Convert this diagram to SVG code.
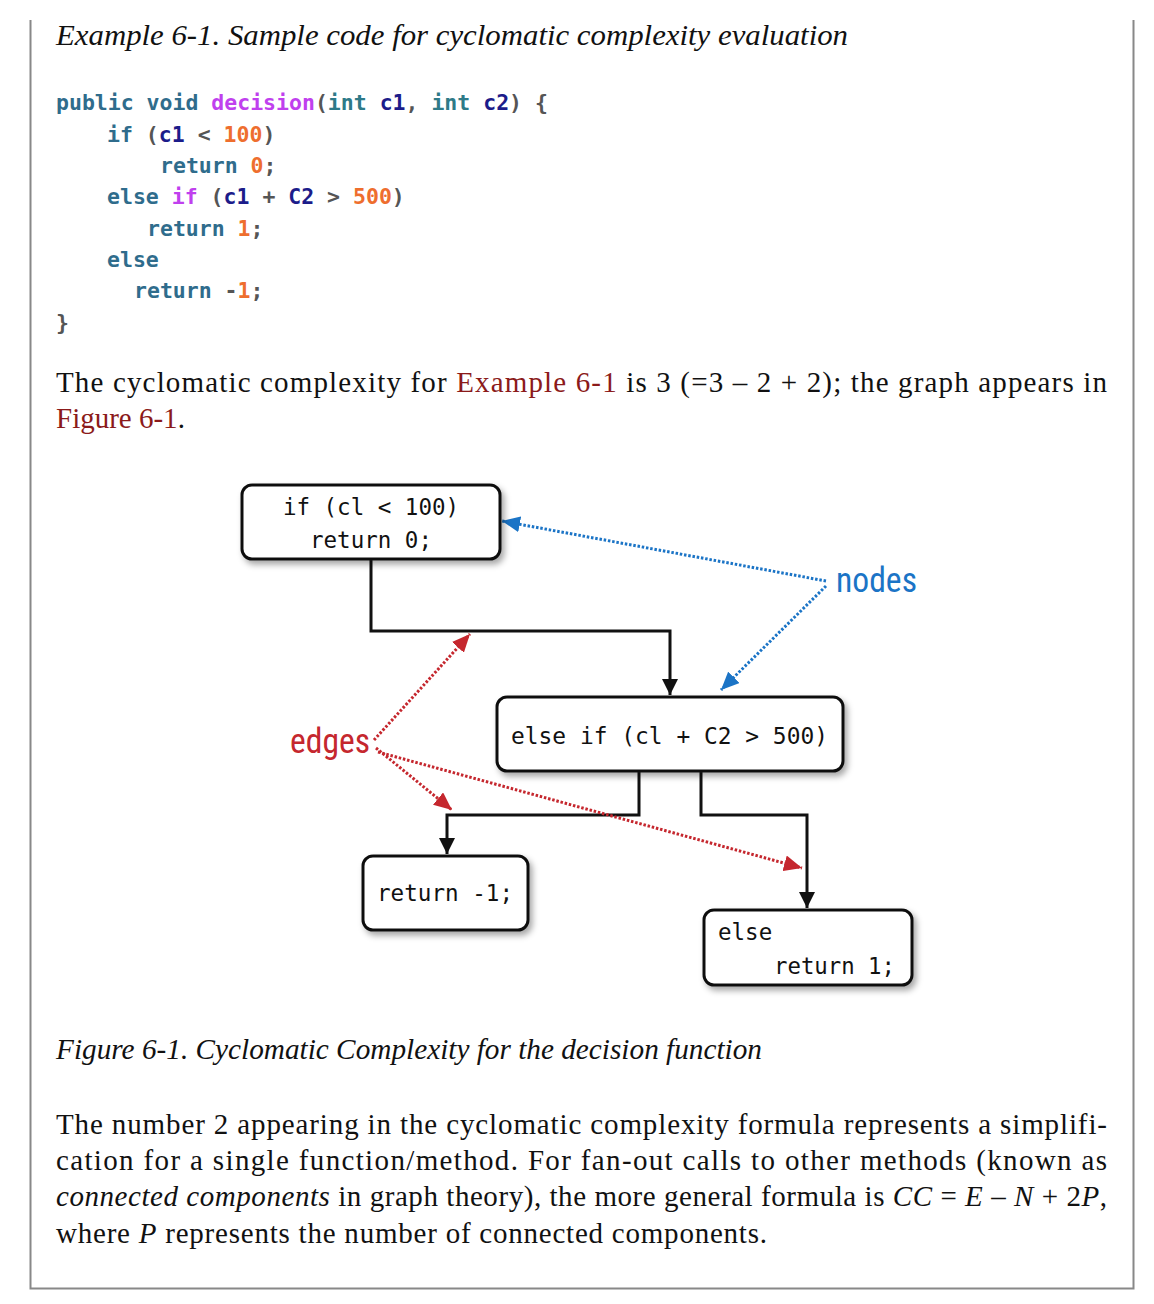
<svg xmlns="http://www.w3.org/2000/svg" width="1154" height="1304" viewBox="0 0 1154 1304">
<defs>
<style>
.serif{font-family:"Liberation Serif","Times New Roman",serif;font-size:29px;fill:#111}
.it{font-style:italic}
.link{fill:#8b1a1a}
.code{font-family:"DejaVu Sans Mono","Liberation Mono",monospace;font-size:21.5px;font-weight:bold}
.kw{fill:#2f6c8c}
.ty{fill:#2e7a88}
.fn{fill:#c040ee}
.var{fill:#1c1c8a}
.num{fill:#ee6e2e}
.pun{fill:#555}
.ntext{font-family:"DejaVu Sans Mono","Liberation Mono",monospace;font-size:22.5px;fill:#111}
.box{fill:#fff;stroke:#111;stroke-width:3}
.edge{fill:none;stroke:#111;stroke-width:3}
.blue{fill:none;stroke:#1b74c6;stroke-width:3;stroke-dasharray:2.5 1.8}
.red{fill:none;stroke:#c5272e;stroke-width:3;stroke-dasharray:2.5 1.8}
.lbl{font-family:"Liberation Sans Narrow","Roboto Condensed","Liberation Sans",sans-serif;font-size:35px}
</style>
<filter id="sh" x="-10%" y="-10%" width="130%" height="140%">
<feDropShadow dx="3" dy="4" stdDeviation="3" flood-color="#000" flood-opacity="0.35"/>
</filter>
<marker id="ab" markerUnits="userSpaceOnUse" markerWidth="18" markerHeight="16" refX="16" refY="8" orient="auto">
<path d="M0,0 L16,8 L0,16 Z" fill="#111"/>
</marker>
<marker id="abl" markerUnits="userSpaceOnUse" markerWidth="20" markerHeight="16" refX="18" refY="8" orient="auto">
<path d="M0,0 L18,8 L0,16 Z" fill="#1b74c6"/>
</marker>
<marker id="ar" markerUnits="userSpaceOnUse" markerWidth="20" markerHeight="16" refX="18" refY="8" orient="auto">
<path d="M0,0 L18,8 L0,16 Z" fill="#c5272e"/>
</marker>
</defs>
<rect width="1154" height="1304" fill="#fff"/>
<path d="M30.5,20 V1288.5 H1133.5 V20" fill="none" stroke="#888" stroke-width="2"/>

<text class="serif it" x="56" y="45" textLength="792" lengthAdjust="spacingAndGlyphs">Example 6-1. Sample code for cyclomatic complexity evaluation</text>

<g class="code">
<text x="56" y="110"><tspan class="kw">public void </tspan><tspan class="fn">decision</tspan><tspan class="pun">(</tspan><tspan class="ty">int </tspan><tspan class="var">c1</tspan><tspan class="pun">, </tspan><tspan class="ty">int </tspan><tspan class="var">c2</tspan><tspan class="pun">) {</tspan></text>
<text x="107" y="142"><tspan class="kw">if </tspan><tspan class="pun">(</tspan><tspan class="var">c1 </tspan><tspan class="pun">&lt; </tspan><tspan class="num">100</tspan><tspan class="pun">)</tspan></text>
<text x="160" y="173"><tspan class="kw">return </tspan><tspan class="num">0</tspan><tspan class="pun">;</tspan></text>
<text x="107" y="204"><tspan class="kw">else </tspan><tspan class="fn">if </tspan><tspan class="pun">(</tspan><tspan class="var">c1 </tspan><tspan class="pun">+ </tspan><tspan class="var">C2 </tspan><tspan class="pun">&gt; </tspan><tspan class="num">500</tspan><tspan class="pun">)</tspan></text>
<text x="147" y="236"><tspan class="kw">return </tspan><tspan class="num">1</tspan><tspan class="pun">;</tspan></text>
<text x="107" y="267" class="kw">else</text>
<text x="134" y="298"><tspan class="kw">return </tspan><tspan class="pun">-</tspan><tspan class="num">1</tspan><tspan class="pun">;</tspan></text>
<text x="56" y="330" class="pun">}</text>
</g>

<text class="serif" x="56" y="392" textLength="1051" lengthAdjust="spacing">The cyclomatic complexity for <tspan class="link">Example 6-1</tspan> is 3 (=3 – 2 + 2); the graph appears in</text>
<text class="serif link" x="56" y="428">Figure 6-1<tspan fill="#111">.</tspan></text>

<g id="connectors">
<path class="edge" d="M371,559 V631 H670 V695" marker-end="url(#ab)"/>
<path class="edge" d="M639,771 V815 H447 V854" marker-end="url(#ab)"/>
<path class="edge" d="M701,771 V815 H807 V908" marker-end="url(#ab)"/>
<path class="blue" d="M826,581 L502,521" marker-end="url(#abl)"/>
<path class="blue" d="M826,586 L721,690" marker-end="url(#abl)"/>
<path class="red" d="M374,740 L470,634" marker-end="url(#ar)"/>
<path class="red" d="M376,748 L452,810" marker-end="url(#ar)"/>
<path class="red" d="M378,752 L802,868" marker-end="url(#ar)"/>
</g>

<g id="node-if">
<rect class="box" x="242" y="485" width="258" height="74" rx="10" filter="url(#sh)"/>
<text class="ntext" x="371" y="515" text-anchor="middle">if (cl &lt; 100)</text>
<text class="ntext" x="371" y="548" text-anchor="middle">return 0;</text>
</g>
<g id="node-elseif">
<rect class="box" x="497" y="697" width="346" height="74" rx="10" filter="url(#sh)"/>
<text class="ntext" x="511" y="744" textLength="317" lengthAdjust="spacingAndGlyphs">else if (cl + C2 &gt; 500)</text>
</g>
<g id="node-ret-neg">
<rect class="box" x="363" y="856" width="165" height="74" rx="10" filter="url(#sh)"/>
<text class="ntext" x="377" y="901" textLength="136" lengthAdjust="spacingAndGlyphs">return -1;</text>
</g>
<g id="node-else">
<rect class="box" x="704" y="910" width="208" height="75" rx="10" filter="url(#sh)"/>
<text class="ntext" x="718" y="940">else</text>
<text class="ntext" x="774" y="974" textLength="121" lengthAdjust="spacingAndGlyphs">return 1;</text>
</g>

<g id="label-nodes"><text class="lbl" x="836" y="592" fill="#1b74c6" textLength="81" lengthAdjust="spacingAndGlyphs">nodes</text></g>
<g id="label-edges"><text class="lbl" x="290" y="753" fill="#c5272e" textLength="80" lengthAdjust="spacingAndGlyphs">edges</text></g>

<text class="serif it" x="56" y="1059" textLength="706" lengthAdjust="spacingAndGlyphs">Figure 6-1. Cyclomatic Complexity for the decision function</text>

<text class="serif" x="56" y="1134" textLength="1051" lengthAdjust="spacing">The number 2 appearing in the cyclomatic complexity formula represents a simplifi-</text>
<text class="serif" x="56" y="1170" textLength="1051" lengthAdjust="spacing">cation for a single function/method. For fan-out calls to other methods (known as</text>
<text class="serif" x="56" y="1206" textLength="1051" lengthAdjust="spacing"><tspan class="it">connected components</tspan> in graph theory), the more general formula is <tspan class="it">CC</tspan> = <tspan class="it">E</tspan> – <tspan class="it">N</tspan> + 2<tspan class="it">P</tspan>,</text>
<text class="serif" x="56" y="1243" textLength="711" lengthAdjust="spacing">where <tspan class="it">P</tspan> represents the number of connected components.</text>
</svg>
